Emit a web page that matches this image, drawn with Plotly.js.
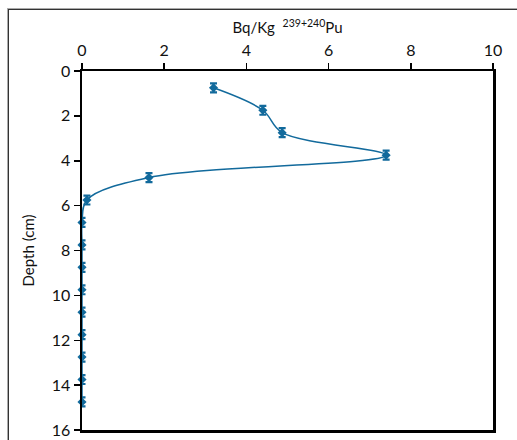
<!DOCTYPE html>
<html>
<head>
<meta charset="utf-8">
<script src="https://cdn.plot.ly/plotly-3.0.1.min.js"></script>
<style>
html,body{margin:0;padding:0;background:#fff;}
#wrap{position:relative;width:517px;height:440px;}
#frame{position:absolute;left:8px;top:9px;width:520px;height:440px;border-left:1.5px solid #333;border-top:1.5px solid #333;box-shadow:-1px -1px 0 #aaa;pointer-events:none;z-index:5;}
#chart{position:absolute;left:0;top:0;width:517px;height:440px;}
</style>
</head>
<body>
<div id="wrap"><div id="chart"></div><div id="frame"></div></div>
<script>
// Activity (Bq/Kg 239+240Pu) by depth (cm)
var depth = [0.75, 1.75, 2.75, 3.75, 4.75, 5.75, 6.75, 7.75, 8.75, 9.75, 10.75, 11.75, 12.75, 13.75, 14.75];
var activity = [3.2, 4.4, 4.87, 7.4, 1.63, 0.12, 0, 0, 0, 0, 0, 0, 0, 0, 0];
var depthErr = [0.2, 0.2, 0.2, 0.2, 0.2, 0.2, 0.2, 0.2, 0.2, 0.2, 0.2, 0.2, 0.2, 0.2, 0.2];
var xTicks = [0, 2, 4, 6, 8, 10];
var yTicks = [0, 2, 4, 6, 8, 10, 12, 14, 16];

var blue = '#126a9c';
var fontFam = 'Lato, "Open Sans", sans-serif';

var trace = {
  x: activity, y: depth, type: 'scatter', mode: 'lines+markers',
  line: {color: blue, width: 1.5, shape: 'spline', smoothing: 1},
  marker: {color: blue, size: 7, symbol: 'diamond'},
  error_y: {type: 'data', array: depthErr, visible: true, color: blue, thickness: 2.2, width: 3.5},
  cliponaxis: false
};

var layout = {
  width: 517, height: 440,
  margin: {l: 82, r: 24, t: 71, b: 10},
  paper_bgcolor: '#fff', plot_bgcolor: '#fff',
  showlegend: false,
  font: {family: fontFam, color: '#111', size: 15},
  xaxis: {
    side: 'top', range: [0, 10], tickvals: xTicks, ticktext: xTicks.map(String),
    ticks: 'outside', ticklen: 6, tickwidth: 1.5, tickcolor: '#000',
    showline: true, linewidth: 2.5, linecolor: '#000', mirror: true,
    showgrid: false, zeroline: false,
    tickfont: {size: 16, family: fontFam},
    title: {text: 'Bq/Kg  <sup>239+240</sup>Pu', font: {size: 15, family: fontFam}, standoff: 3}
  },
  yaxis: {
    range: [16, 0], tickvals: yTicks, ticktext: yTicks.map(String),
    ticks: 'outside', ticklen: 6, tickwidth: 1.5, tickcolor: '#000',
    showline: true, linewidth: 2.5, linecolor: '#000', mirror: true,
    showgrid: false, zeroline: false,
    tickfont: {size: 16, family: fontFam},
    title: {text: 'Depth (cm)', font: {size: 15, family: fontFam}, standoff: 14}
  }
};

Plotly.newPlot('chart', [trace], layout, {displayModeBar: false, staticPlot: true});
</script>
</body>
</html>
